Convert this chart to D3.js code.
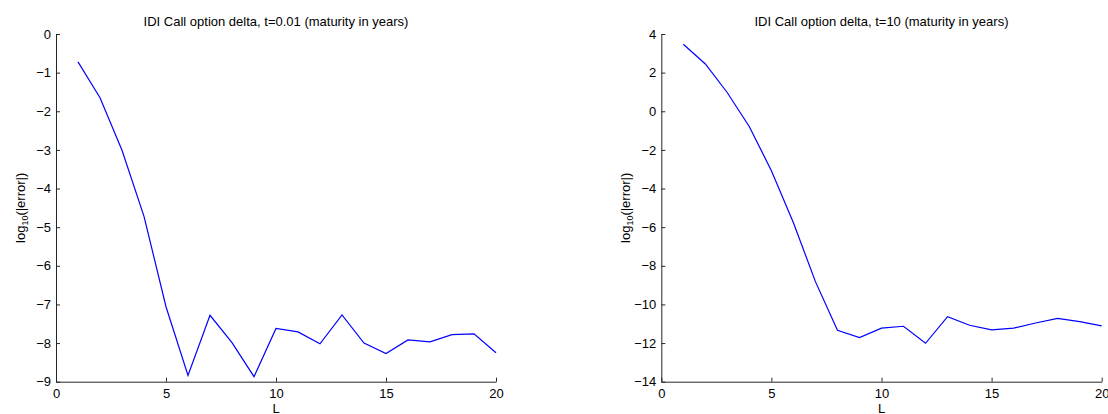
<!DOCTYPE html>
<html>
<head>
<meta charset="utf-8">
<script src="https://cdn.jsdelivr.net/npm/d3@7"></script>
<style>
  body { margin: 0; background: #fff; }
  text { font-family: "Liberation Sans", Arial, sans-serif; fill: #000; }
</style>
</head>
<body>
<div id="container"></div>
<script>
// data
const levels = d3.range(1, 21);
const deltaShort = [-0.72, -1.65, -3.01, -4.72, -7.06, -8.84, -7.28, -7.99, -8.87, -7.62,
                    -7.71, -8.02, -7.27, -8.00, -8.27, -7.92, -7.97, -7.78, -7.76, -8.25];
const deltaLong = [3.47, 2.45, 0.96, -0.80, -3.08, -5.77, -8.82, -11.34, -11.72, -11.23,
                   -11.13, -12.01, -10.63, -11.08, -11.32, -11.23, -10.96, -10.72, -10.89, -11.11];
const xTicks = [0, 5, 10, 15, 20];
const yTicksShort = [0, -1, -2, -3, -4, -5, -6, -7, -8, -9];
const yTicksLong = [4, 2, 0, -2, -4, -6, -8, -10, -12, -14];

const width = 1108, height = 414;
const fontSize = 13;

const svg = d3.select("#container").append("svg")
  .attr("width", width)
  .attr("height", height);

const panels = [
  { title: "IDI Call option delta, t=0.01 (maturity in years)", values: deltaShort,
    yDomain: [-9, 0], yTicks: yTicksShort, left: 56, right: 496 },
  { title: "IDI Call option delta, t=10 (maturity in years)", values: deltaLong,
    yDomain: [-14, 4], yTicks: yTicksLong, left: 661.3, right: 1101.7 }
];

const plotTop = 34, plotBottom = 381.7;
const minus = s => String(s).replace("-", "\u2212");

panels.forEach(p => {
  const x = d3.scaleLinear().domain([0, 20]).range([p.left, p.right]);
  const y = d3.scaleLinear().domain(p.yDomain).range([plotBottom, plotTop]);
  const g = svg.append("g");

  // axes with inward ticks, MATLAB style
  g.append("g")
    .attr("transform", `translate(0,${plotBottom})`)
    .call(d3.axisBottom(x).tickValues(xTicks).tickSizeInner(-4).tickSizeOuter(0).tickPadding(7))
    .call(a => a.select(".domain").attr("stroke", "#262626"))
    .call(a => a.selectAll("line").attr("stroke", "#262626"))
    .call(a => a.selectAll("text").attr("font-size", fontSize).attr("font-family", "Liberation Sans, Arial, sans-serif"));

  g.append("g")
    .attr("transform", `translate(${p.left},0)`)
    .call(d3.axisLeft(y).tickValues(p.yTicks).tickFormat(minus).tickSizeInner(-4).tickSizeOuter(0).tickPadding(5))
    .call(a => a.select(".domain").attr("stroke", "#262626"))
    .call(a => a.selectAll("line").attr("stroke", "#262626"))
    .call(a => a.selectAll("text").attr("font-size", fontSize).attr("font-family", "Liberation Sans, Arial, sans-serif"));

  const line = d3.line()
    .x((d, i) => x(levels[i]))
    .y(d => y(d));

  g.append("path")
    .datum(p.values)
    .attr("fill", "none")
    .attr("stroke", "#0000ff")
    .attr("stroke-width", 1.2)
    .attr("stroke-linejoin", "miter")
    .attr("d", line);

  g.append("text")
    .attr("x", (p.left + p.right) / 2)
    .attr("y", 26)
    .attr("text-anchor", "middle")
    .attr("font-size", fontSize)
    .text(p.title);

  g.append("text")
    .attr("x", (p.left + p.right) / 2)
    .attr("y", 413)
    .attr("text-anchor", "middle")
    .attr("font-size", fontSize)
    .text("L");

  const yl = g.append("text")
    .attr("transform", `translate(${p.left - 31},${(plotTop + plotBottom) / 2}) rotate(-90)`)
    .attr("text-anchor", "middle")
    .attr("font-size", fontSize);
  yl.append("tspan").text("log");
  yl.append("tspan").attr("font-size", 9).attr("dy", 3).text("10");
  yl.append("tspan").attr("dy", -3).text("(|error|)");
});
</script>
</body>
</html>
